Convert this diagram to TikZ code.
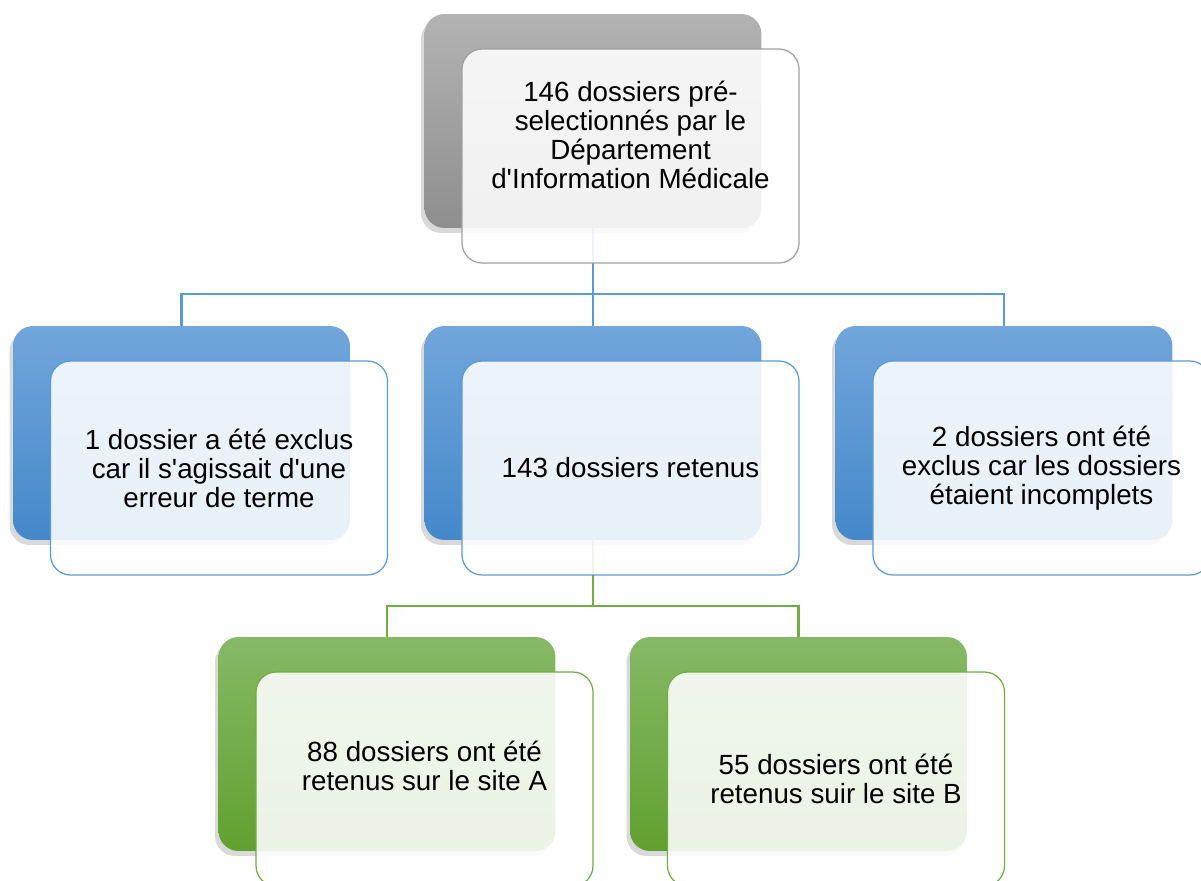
\documentclass[tikz,border=0pt]{standalone}
\usepackage{fontspec}
\setmainfont{Liberation Sans}
\usetikzlibrary{shadows}
\definecolor{greytop}{HTML}{B3B3B3}
\definecolor{greybottom}{HTML}{8E8E8E}
\definecolor{greyline}{HTML}{A0A0A0}
\definecolor{bluetop}{HTML}{71A6DB}
\definecolor{bluebottom}{HTML}{4488CA}
\definecolor{blueline}{HTML}{5B9BD5}
\definecolor{greentop}{HTML}{86B966}
\definecolor{greenbottom}{HTML}{61A02F}
\definecolor{greenline}{HTML}{70AD47}

\begin{document}
\begin{tikzpicture}[x=0.02cm,y=-0.02cm,
	backbox/.style={rounded corners=0.4cm, minimum width=6.74cm, minimum height=4.28cm,
		top color=#1top, bottom color=#1bottom,
		drop shadow={shadow xshift=-0.07cm, shadow yshift=-0.1cm, opacity=0.3}},
	frontbox/.style={draw=#1line, line width=0.7pt, fill=white, fill opacity=0.88,
		rounded corners=0.4cm, minimum width=6.74cm, minimum height=4.28cm},
	boxtext/.style={align=center, font=\fontsize{15.8}{16.5}\selectfont},
	bluelink/.style={draw=blueline, line width=1.2pt},
	greenlink/.style={draw=greenline, line width=1.2pt}]
	\useasboundingbox (0,0) rectangle (1201,880);
	
	\node[backbox=grey] (topback) at (593,121) {};
	\node[backbox=blue] (leftback) at (181.5,433) {};
	\node[backbox=blue] (midback) at (593,433) {};
	\node[backbox=blue] (rightback) at (1004,433) {};
	\node[backbox=green] (siteAback) at (387,744) {};
	\node[backbox=green] (siteBback) at (798.5,744) {};
	
	\draw[bluelink] (topback.south) -- ++(0,66) coordinate (bluefork) -| (leftback.north);
	\draw[bluelink] (bluefork) -- (midback.north);
	\draw[bluelink] (bluefork) -| (rightback.north);
	\draw[greenlink] (midback.south) -- ++(0,66) coordinate (greenfork) -| (siteAback.north);
	\draw[greenlink] (greenfork) -| (siteBback.north);
	
	\node[frontbox=grey, label={[boxtext, yshift=0.42cm]center:146 dossiers pré-\\selectionnés par le\\Département\\d\textquotesingle Information Médicale}] (topfront) at (630.5,156) {};
	\node[frontbox=blue, label={[boxtext]center:1 dossier a été exclus\\car il s\textquotesingle agissait d\textquotesingle une\\erreur de terme}] (leftfront) at (219,468) {};
	\node[frontbox=blue, label={[boxtext]center:143 dossiers retenus}] (midfront) at (630.5,468) {};
	\node[frontbox=blue, label={[boxtext]center:2 dossiers ont été\\exclus car les dossiers\\étaient incomplets}] (rightfront) at (1041.5,468) {};
	\node[frontbox=green, label={[boxtext, yshift=0.26cm]center:88 dossiers ont été\\retenus sur le site A}] (siteAfront) at (424.5,779) {};
	\node[frontbox=green, label={[boxtext]center:55 dossiers ont été\\retenus suir le site B}] (siteBfront) at (836,779) {};
\end{tikzpicture}
\end{document}
